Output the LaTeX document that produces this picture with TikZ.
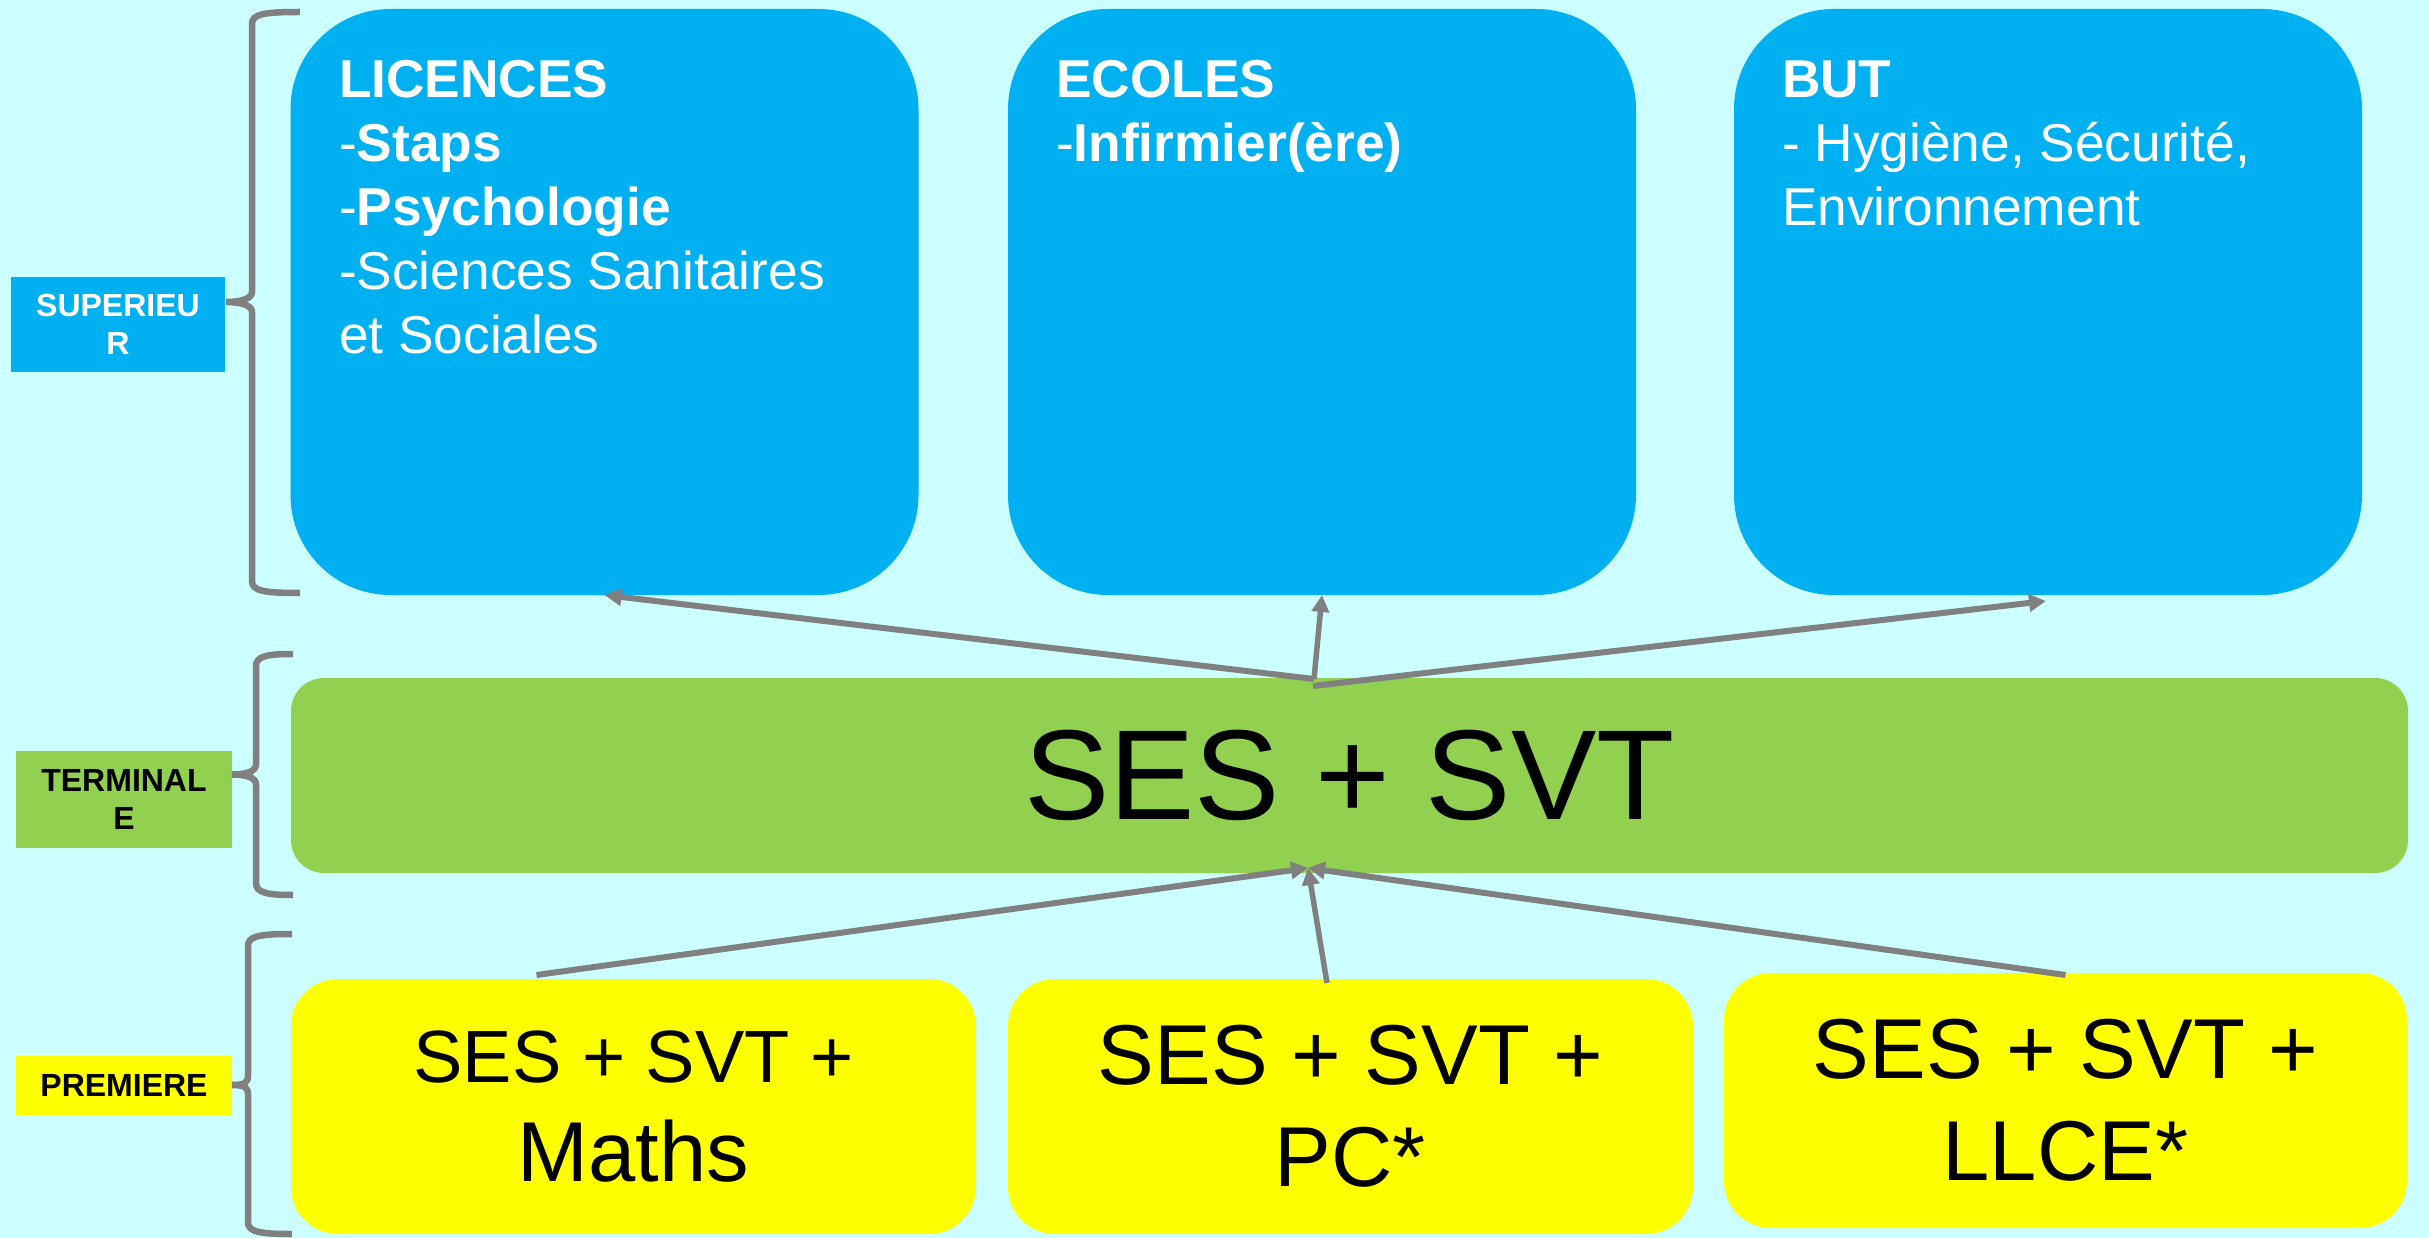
\documentclass[tikz,border=0pt]{standalone}
\usepackage{fontspec}
\setmainfont{Liberation Sans}
\usetikzlibrary{arrows.meta,calc}
\definecolor{bgc}{HTML}{CCFFFF}
\definecolor{bluec}{HTML}{00B0F0}
\definecolor{greenc}{HTML}{92D050}
\definecolor{yellowc}{HTML}{FFFF00}
\definecolor{grayc}{HTML}{808080}
\newcommand\ltext[1]{\vtop{\halign{##\hfil\cr#1\crcr}}}
\newcommand\ctext[1]{\vtop{\halign{\hfil##\hfil\cr#1\crcr}}}
\newcommand\lvbrace[6]{%
  \draw[bracestyle] (#1,#4) .. controls ({#2+12},#4) and (#2,{#4+2}) .. (#2,{#4+12})
    -- (#2,{#5-10}) .. controls (#2,{#5-3}) and ({#3+14},#5) .. (#3,#5)
    .. controls ({#3+14},#5) and (#2,{#5+3}) .. (#2,{#5+10})
    -- (#2,{#6-12}) .. controls (#2,{#6-2}) and ({#2+12},#6) .. (#1,#6);}
\tikzset{
  box/.style={inner sep=0pt, outer sep=0pt, draw=none},
  topbox/.style={box, fill=bluec, rounded corners=100pt, minimum width=628pt, minimum height=586pt},
  toptext/.style={inner sep=0pt, outer sep=0pt, anchor=base west, text=white, font=\fontsize{53.3}{64}\selectfont},
  greenbox/.style={box, fill=greenc, rounded corners=33pt, minimum width=2117pt, minimum height=195pt, font=\fontsize{128}{150}\selectfont},
  yelbox/.style={box, fill=yellowc, rounded corners=47pt, minimum height=255pt},
  lab/.style={box, minimum width=216pt, font=\bfseries\fontsize{32}{38}\selectfont},
  bracestyle/.style={draw=grayc, line width=6.5pt},
  arrthick/.style={draw=grayc, line width=6pt, -{Triangle[length=17pt,width=17pt]}},
  arrthin/.style={draw=grayc, line width=5.5pt, -{Triangle[length=17pt,width=17pt]}},
}
\begin{document}
\begin{tikzpicture}[x=1pt,y=-1pt]
\fill[bgc] (0,0) rectangle (2429,1238);
\useasboundingbox (0,0) rectangle (2429,1238);
% top boxes
\node[topbox] (lic) at (604.5,302) {};
\node[topbox] (eco) at (1322,302) {};
\node[topbox] (but) at (2048,302) {};
\node[toptext] (licT) at (339,98) {\ltext{\textbf{LICENCES}\cr -\textbf{Staps}\cr -\textbf{Psychologie}\cr -Sciences Sanitaires\cr et Sociales}};
\node[toptext] (ecoT) at (1056,98) {\ltext{\textbf{ECOLES}\cr -\textbf{Infirmier(ère)}}};
\node[toptext] (butT) at (1782,98) {\ltext{\textbf{BUT}\cr - Hygiène, Sécurité,\cr Environnement}};
% green
\node[greenbox] (grn) at (1349.5,775.5) {SES + SVT};
% yellow
\node[yelbox, minimum width=685pt, font=\fontsize{74}{99}\selectfont] (y1) at (633.5,1106.5) {\ctext{SES + SVT +\cr {\fontsize{85}{99}\selectfont Maths}}};
\node[yelbox, minimum width=685pt, font=\fontsize{85}{102}\selectfont] (y2) at (1350.5,1106.5) {\ctext{SES + SVT +\cr PC*}};
\node[yelbox, minimum width=683pt, font=\fontsize{85}{102}\selectfont] (y3) at (2065.5,1100.5) {\ctext{SES + SVT +\cr LLCE*}};
% labels
\node[lab, fill=bluec, text=white, minimum width=214pt, minimum height=95pt] (sup) at (118,324.5) {\ctext{SUPERIEU\cr R}};
\node[lab, fill=greenc, text=black, minimum height=97pt] (ter) at (124,799.5) {\ctext{TERMINAL\cr E}};
\node[lab, fill=yellowc, text=black, minimum height=59pt] (pre) at (124,1085.5) {\ctext{PREMIERE}};
% braces
\lvbrace{300}{252}{226}{12}{302}{593}
\lvbrace{293}{256}{232}{654}{774.5}{895}
\lvbrace{292}{248}{232}{934}{1085}{1234}
% arrows
\coordinate (gT) at (1314,679);
\coordinate (gT2) at (1313,686);
\coordinate (gB) at (1308,868);
\draw[arrthick] (gT) -- (lic.south);
\draw[arrthin] (gT) -- (eco.south);
\draw[arrthick] (gT2) -- ($(but.south)+(-2,6)$);
\draw[arrthick] ($(y1.north)+(-97,-4)$) -- (gB);
\draw[arrthin] ($(y2.north)+(-23.5,4)$) -- (gB);
\draw[arrthick] ($(y3.north)+(0,2)$) -- (gB);
\end{tikzpicture}
\end{document}
